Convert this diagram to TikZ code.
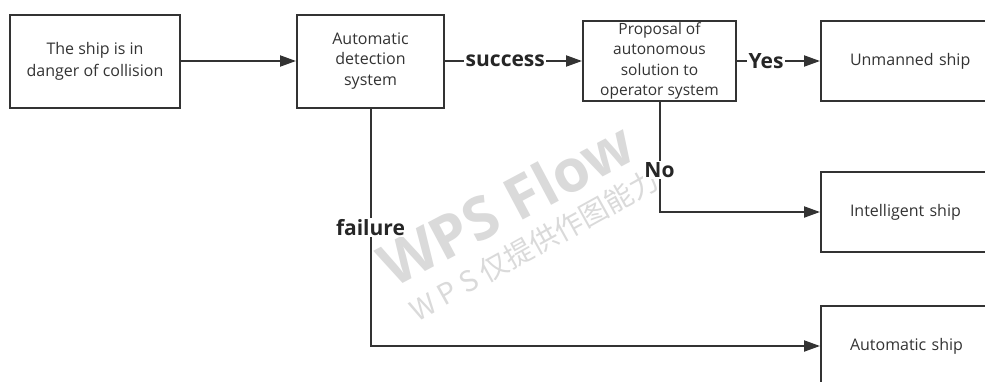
\documentclass[tikz,border=0pt]{standalone}
\usepackage{fontspec}
\setmainfont{Open Sans}
\newfontfamily\cjkfont{Noto Sans CJK SC}
\usetikzlibrary{arrows.meta}
\definecolor{ink}{HTML}{333333}
\definecolor{wm}{HTML}{DADADA}
\tikzset{
  box/.style={draw=ink, line width=2pt, fill=white, align=center, text=ink,
    font=\fontsize{16}{21}\selectfont, inner sep=2pt},
  endbox/.style={box, minimum width=200pt, minimum height=80pt, text width=142pt,
    align=left, inner xsep=29pt},
  arr/.style={draw=ink, line width=2pt, -{Triangle[length=16pt,width=11pt]}},
  lbl/.style={fill=white, text=black!85, font=\fontsize{21}{22}\selectfont\bfseries, inner sep=1.5pt},
}
\begin{document}
\begin{tikzpicture}[x=1pt,y=-1pt]
\useasboundingbox (0,0) rectangle (985,381);
\clip (0,0) rectangle (985,381);
\fill[white] (0,0) rectangle (985,381);

% watermark
\node[text=wm, rotate=28, font=\fontsize{59}{59}\selectfont\bfseries] (wm1) at (506,204) {WPS Flow};
\node[text=wm, rotate=29, font=\cjkfont\fontsize{28.5}{28.5}\selectfont] (wm2) at (534,245) {W P S 仅提供作图能力};

% boxes
\node[box, minimum width=170pt, minimum height=93pt, font=\fontsize{16}{22}\selectfont] (b1) at (95,61) {The ship is in\\danger of collision};
\node[box, minimum width=147pt, minimum height=93pt, font=\fontsize{16}{20.5}\selectfont] (b2) at (370.5,61) {Automatic\\detection\\system};
\node[box, minimum width=153pt, minimum height=80pt, inner ysep=0pt, font=\fontsize{15.5}{20.3}\selectfont] (b3) at (659.5,61) {Proposal of\\autonomous\\solution to\\operator system};
\node[endbox] (b4) at (921,61) {Unmanned ship};
\node[endbox] (b5) at (921,212) {Intelligent ship};
\node[endbox] (b6) at (921,346) {Automatic ship};

% connectors
\draw[arr] (b1) -- (b2);
\draw[arr] (b2) -- node[lbl, pos=0.44] {success} (b3);
\draw[arr] (b3) -- node[lbl, pos=0.35] {Yes} (b4);
\draw[arr] (b3) |- node[lbl, pos=0.31] {No} (b5);
\draw[arr] (b2) |- node[lbl, pos=0.25] {failure} (b6);
\end{tikzpicture}
\end{document}
